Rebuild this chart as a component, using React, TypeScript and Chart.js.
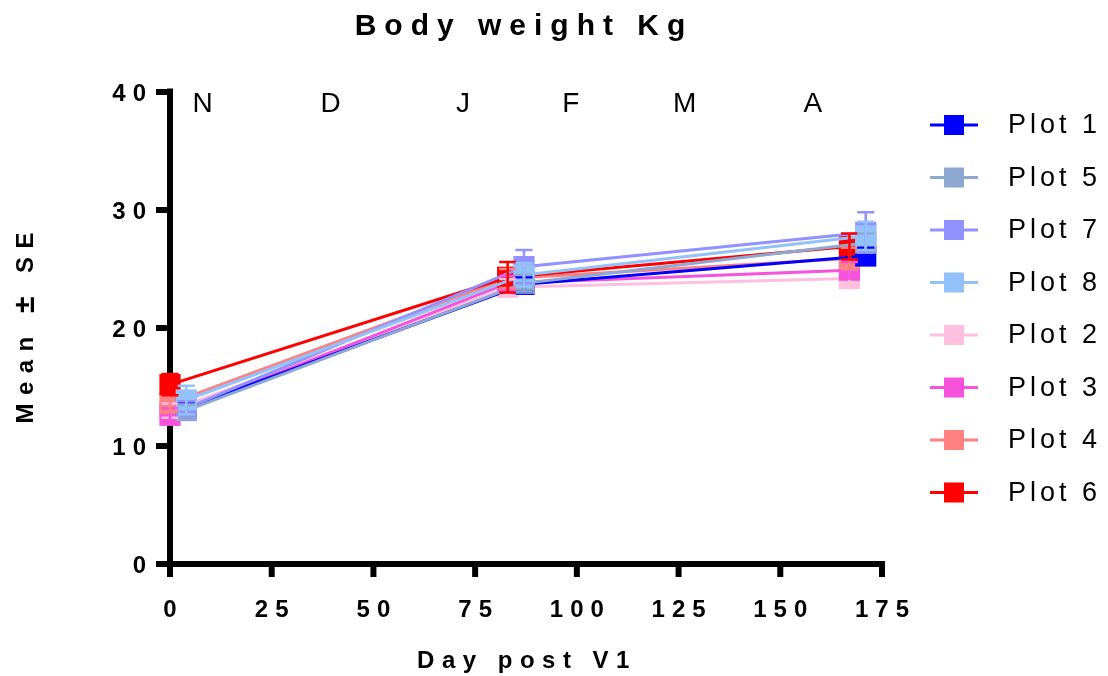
import React, { useEffect, useRef } from 'react';
import { Chart, registerables } from 'chart.js';

Chart.register(...registerables);

// ---------- data ----------
const seriesNames = ['Plot 1', 'Plot 5', 'Plot 7', 'Plot 8', 'Plot 2', 'Plot 3', 'Plot 4', 'Plot 6'];
const seriesColors = ['#0000FF', '#8DA9D1', '#9191FF', '#93C1F9', '#FFC0E0', '#F652DC', '#FF8080', '#FF0000'];
// blue family measured a few days after the red family
const daysBlue = [4, 87, 171];
const daysRed = [0, 83, 167];

const plot1 = [13.2, 23.7, 26.1];
const plot5 = [13.0, 23.8, 27.2];
const plot7 = [13.2, 25.2, 28.1];
const plot8 = [13.9, 24.5, 27.8];
const plot2 = [13.0, 23.45, 24.2];
const plot3 = [12.6, 23.8, 24.9];
const plot4 = [13.6, 24.2, 25.9];
const plot6 = [15.2, 24.3, 26.9];

const se1 = [0.5, 0.6, 0.7];
const se5 = [0.5, 0.7, 0.8];
const se7 = [0.6, 1.4, 1.7];
const se8 = [1.2, 1.0, 1.2];
const se2 = [0.6, 0.7, 0.8];
const se3 = [0.6, 0.6, 0.7];
const se4 = [0.7, 0.8, 0.9];
const se6 = [0.9, 1.3, 1.1];

const seriesValues = [plot1, plot5, plot7, plot8, plot2, plot3, plot4, plot6];
const seriesErrors = [se1, se5, se7, se8, se2, se3, se4, se6];
const seriesDays = [daysBlue, daysBlue, daysBlue, daysBlue, daysRed, daysRed, daysRed, daysRed];
// higher = drawn earlier (underneath)
const drawOrder = [3, 2, 1, 0, 7, 6, 5, 4];

const monthLabels = ['N', 'D', 'J', 'F', 'M', 'A'];
const monthDays = [8, 39.5, 72, 98.5, 126.5, 158];

const xTicks = [0, 25, 50, 75, 100, 125, 150, 175];
const yTicks = [0, 10, 20, 30, 40];

const titleText = 'Body weight Kg';
const xTitleText = 'Day post V1';
const yTitleParts = ['Mean ', '±', ' SE'];

const FONT = '"Liberation Sans", Arial, sans-serif';

const decorPlugin = {
  id: 'decor',
  beforeDatasetsDraw(chart: any) {
    const ctx = chart.ctx as CanvasRenderingContext2D;
    const xs = chart.scales.x;
    const ys = chart.scales.y;
    const x0 = xs.getPixelForValue(0);
    const xEnd = xs.getPixelForValue(175);
    const y0 = ys.getPixelForValue(0);
    const yTop = ys.getPixelForValue(40);
    ctx.save();
    ctx.strokeStyle = '#000';
    ctx.lineWidth = 6;
    ctx.lineCap = 'butt';
    // y axis
    ctx.beginPath();
    ctx.moveTo(x0, yTop - 3.5);
    ctx.lineTo(x0, y0 + 3);
    ctx.stroke();
    // x axis
    ctx.beginPath();
    ctx.moveTo(x0 - 14, y0);
    ctx.lineTo(xEnd + 3, y0);
    ctx.stroke();
    // y ticks
    for (const t of yTicks) {
      const py = ys.getPixelForValue(t);
      ctx.beginPath();
      ctx.moveTo(x0 - 14, py);
      ctx.lineTo(x0, py);
      ctx.stroke();
    }
    // x ticks
    for (const t of xTicks) {
      const px = xs.getPixelForValue(t);
      ctx.beginPath();
      ctx.moveTo(px, y0);
      ctx.lineTo(px, y0 + 13);
      ctx.stroke();
    }
    // tick labels
    ctx.fillStyle = '#000';
    ctx.font = `bold 24px ${FONT}`;
    (ctx as any).letterSpacing = '7px';
    ctx.textBaseline = 'alphabetic';
    ctx.textAlign = 'center';
    for (const t of xTicks) {
      const px = xs.getPixelForValue(t);
      ctx.fillText(String(t), px + 3.5, y0 + 53);
    }
    ctx.textAlign = 'right';
    for (const t of yTicks) {
      const py = ys.getPixelForValue(t);
      ctx.fillText(String(t), x0 - 17, py + 9);
    }
    ctx.restore();
  },
  afterDatasetsDraw(chart: any) {
    const ctx = chart.ctx as CanvasRenderingContext2D;
    const ys = chart.scales.y;
    const xs = chart.scales.x;
    ctx.save();
    // error bars, from bottom layer up
    const idx = seriesNames.map((_, i) => i).sort((a, b) => drawOrder[b] - drawOrder[a]);
    for (const i of idx) {
      const meta = chart.getDatasetMeta(i);
      ctx.strokeStyle = seriesColors[i];
      ctx.lineWidth = 2.5;
      meta.data.forEach((pt: any, j: number) => {
        const v = seriesValues[i][j];
        const e = seriesErrors[i][j];
        const yHi = ys.getPixelForValue(v + e);
        const yLo = ys.getPixelForValue(v - e);
        ctx.beginPath();
        ctx.moveTo(pt.x, yHi);
        ctx.lineTo(pt.x, yLo);
        ctx.moveTo(pt.x - 8.5, yHi);
        ctx.lineTo(pt.x + 8.5, yHi);
        ctx.moveTo(pt.x - 8.5, yLo);
        ctx.lineTo(pt.x + 8.5, yLo);
        ctx.stroke();
      });
    }
    // month labels
    ctx.fillStyle = '#000';
    ctx.font = `28px ${FONT}`;
    (ctx as any).letterSpacing = '0px';
    ctx.textAlign = 'center';
    ctx.textBaseline = 'alphabetic';
    const yTop = ys.getPixelForValue(40);
    monthLabels.forEach((m, k) => {
      ctx.fillText(m, xs.getPixelForValue(monthDays[k]), yTop + 20);
    });
    ctx.restore();
  },
  afterDraw(chart: any) {
    const ctx = chart.ctx as CanvasRenderingContext2D;
    const area = chart.chartArea;
    const cx = (area.left + area.right) / 2;
    const cy = (area.top + area.bottom) / 2;
    ctx.save();
    ctx.fillStyle = '#000';
    ctx.textBaseline = 'alphabetic';
    ctx.textAlign = 'center';
    // title
    ctx.font = `bold 30px ${FONT}`;
    (ctx as any).letterSpacing = '8px';
    ctx.fillText(titleText, cx - 2, 35);
    // x title
    ctx.font = `bold 24px ${FONT}`;
    (ctx as any).letterSpacing = '7.5px';
    ctx.fillText(xTitleText, cx + 1, 668);
    // y title (the ± glyph drawn larger, as in the original)
    ctx.save();
    ctx.translate(33, cy);
    ctx.rotate(-Math.PI / 2);
    ctx.textAlign = 'left';
    (ctx as any).letterSpacing = '8.5px';
    const fonts = [`bold 24px ${FONT}`, `bold 30px ${FONT}`, `bold 24px ${FONT}`];
    const widths = yTitleParts.map((p, k) => {
      ctx.font = fonts[k];
      return ctx.measureText(p).width;
    });
    const total = widths.reduce((a, b) => a + b, 0) - 8.5;
    let pos = -total / 2;
    yTitleParts.forEach((p, k) => {
      ctx.font = fonts[k];
      ctx.fillText(p, pos, k === 1 ? 1 : 0);
      pos += widths[k];
    });
    ctx.restore();
    // legend
    ctx.font = `27px ${FONT}`;
    (ctx as any).letterSpacing = '4px';
    ctx.textAlign = 'left';
    ctx.textBaseline = 'middle';
    seriesNames.forEach((name, i) => {
      const ly = 125 + i * 52.5;
      ctx.strokeStyle = seriesColors[i];
      ctx.lineWidth = 3;
      ctx.beginPath();
      ctx.moveTo(930, ly);
      ctx.lineTo(978, ly);
      ctx.stroke();
      ctx.fillStyle = seriesColors[i];
      ctx.fillRect(944, ly - 10, 20, 20);
      ctx.fillStyle = '#000';
      ctx.fillText(name, 1008, ly + 1);
    });
    ctx.restore();
  },
};

export default function App() {
  const ref = useRef<HTMLCanvasElement | null>(null);
  useEffect(() => {
    if (!ref.current) return;
    const datasets = seriesNames.map((name, i) => ({
      label: name,
      data: seriesDays[i].map((d, j) => ({ x: d, y: seriesValues[i][j] })),
      borderColor: seriesColors[i],
      backgroundColor: seriesColors[i],
      borderWidth: 3,
      pointStyle: 'rect',
      pointRadius: 15,
      pointBorderWidth: 0,
      pointBackgroundColor: seriesColors[i],
      pointBorderColor: seriesColors[i],
      tension: 0,
      fill: false,
      clip: false,
      order: drawOrder[i],
    }));
    const chart = new Chart(ref.current, {
      type: 'line',
      data: { datasets } as any,
      options: {
        animation: false,
        responsive: false,
        devicePixelRatio: 1,
        layout: { padding: { left: 170, right: 226, top: 92, bottom: 112 } },
        scales: {
          x: { type: 'linear', min: 0, max: 175, display: false },
          y: { type: 'linear', min: 0, max: 40, display: false },
        },
        plugins: {
          legend: { display: false },
          title: { display: false },
          tooltip: { enabled: false },
        },
        events: [],
      } as any,
      plugins: [decorPlugin as any],
    });
    return () => chart.destroy();
  }, []);
  return (
    <div style={{ position: 'fixed', left: 0, top: 0, width: 1108, height: 676, background: '#fff' }}>
      <canvas ref={ref} width={1108} height={676} style={{ display: 'block' }} />
    </div>
  );
}
